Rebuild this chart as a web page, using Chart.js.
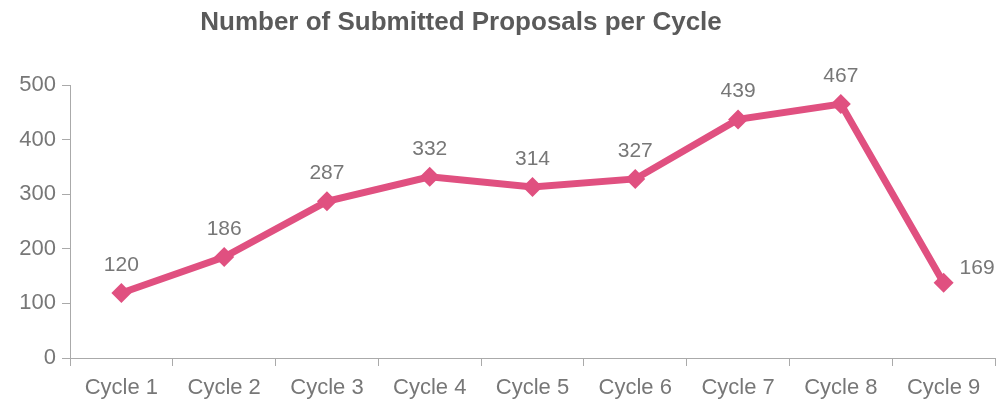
<!DOCTYPE html>
<html>
<head>
<meta charset="utf-8">
<script src="https://cdn.jsdelivr.net/npm/chart.js@4"></script>
<style>
  html, body { margin: 0; padding: 0; background: #fff; }
  #wrap { width: 1005px; height: 403px; position: relative; }
</style>
</head>
<body>
<div id="wrap"><canvas id="chartPropuestas"></canvas></div>
<script>
const ciclos = ["Cycle 1", "Cycle 2", "Cycle 3", "Cycle 4", "Cycle 5", "Cycle 6", "Cycle 7", "Cycle 8", "Cycle 9"];
// posicion dibujada de cada punto
const propuestas = [119, 185, 287, 332, 313, 328, 437, 465, 138];
// texto que muestra cada punto
const etiquetas = ["120", "186", "287", "332", "314", "327", "439", "467", "169"];
const ticksY = [0, 100, 200, 300, 400, 500];

const colorLinea = "#e05080";
const colorTexto = "#777777";
const fuente = "'Liberation Sans', Arial, sans-serif";

// titulo + etiquetas de valores
const pluginTextos = {
    id: "textos",
    afterDatasetsDraw(chart) {
        const ctx = chart.ctx;
        ctx.save();
        ctx.fillStyle = "#5a5a5a";
        ctx.font = "bold 26px " + fuente;
        ctx.textAlign = "center";
        ctx.textBaseline = "middle";
        ctx.fillText("Number of Submitted Proposals per Cycle", 461, 23);

        ctx.fillStyle = colorTexto;
        ctx.font = "21px " + fuente;
        const meta = chart.getDatasetMeta(0);
        meta.data.forEach((p, i) => {
            if (i === etiquetas.length - 1) {
                ctx.textAlign = "left";
                ctx.fillText(etiquetas[i], p.x + 16, p.y - 14);
            } else {
                ctx.textAlign = "center";
                ctx.fillText(etiquetas[i], p.x, p.y - 28);
            }
        });
        ctx.restore();
    }
};

const ctx = document.getElementById("chartPropuestas").getContext("2d");
new Chart(ctx, {
    type: "line",
    data: {
        labels: ciclos,
        datasets: [{
            data: propuestas,
            borderColor: colorLinea,
            backgroundColor: colorLinea,
            borderWidth: 7,
            pointStyle: "rectRot",
            pointRadius: 10,
            pointBorderWidth: 0,
            tension: 0
        }]
    },
    options: {
        responsive: true,
        maintainAspectRatio: false,
        animation: false,
        layout: { padding: { top: 85, right: 4, left: 0, bottom: 0 } },
        plugins: { legend: { display: false }, tooltip: { enabled: false } },
        scales: {
            x: {
                offset: true,
                grid: { drawOnChartArea: false, tickLength: 8, color: "#aaa", offset: true },
                border: { color: "#aaa", width: 1 },
                ticks: { color: colorTexto, font: { family: fuente, size: 22 }, padding: 9, maxRotation: 0 },
                afterFit(s) { s.height = 45; }
            },
            y: {
                min: 0,
                max: 500,
                afterBuildTicks(s) { s.ticks = ticksY.map(v => ({ value: v })); },
                grid: { drawOnChartArea: false, tickLength: 8, color: "#aaa" },
                border: { color: "#aaa", width: 1 },
                ticks: { color: colorTexto, font: { family: fuente, size: 22 }, padding: 6 },
                afterFit(s) { s.width = 70; }
            }
        }
    },
    plugins: [pluginTextos]
});
</script>
</body>
</html>
